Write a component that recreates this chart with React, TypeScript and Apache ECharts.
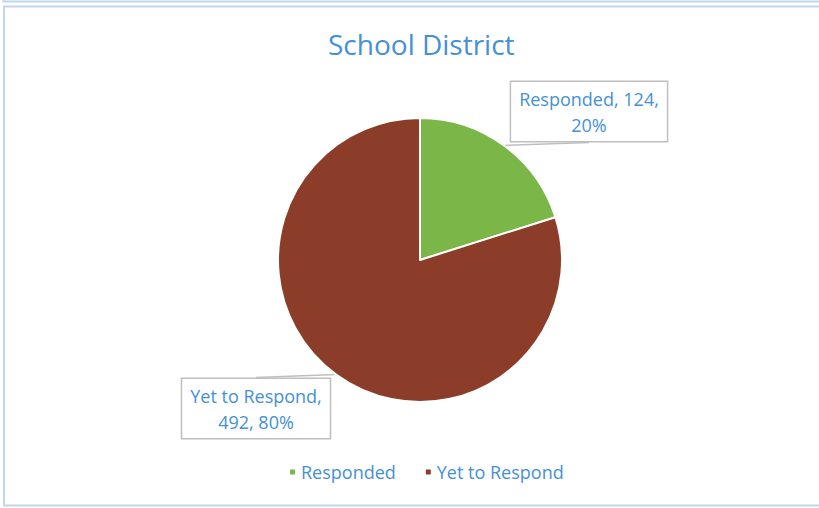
import React, { useEffect, useRef } from "react";
import * as echarts from "echarts";

const categories = ["Responded", "Yet to Respond"];
const values = [124, 492];
const colors = ["#7AB648", "#8B3D2A"];
const titleText = "School District";

const textBlue = "#4590D6";
const FONT = "'Open Sans', Lato, sans-serif";

export default function App() {
  const ref = useRef<HTMLDivElement>(null);
  useEffect(() => {
    if (!ref.current) return;
    const chart = echarts.init(ref.current, undefined, { renderer: "svg" });
    const labelCenters = [
      [589, 111.5],
      [256, 408.5],
    ];
    chart.setOption({
      animation: false,
      backgroundColor: "#ffffff",
      title: {
        text: titleText,
        left: 323,
        top: 25,
        textStyle: { color: textBlue, fontSize: 28, fontWeight: "normal", fontFamily: FONT },
      },
      legend: {
        data: categories,
        left: 283,
        top: 458,
        icon: "rect",
        itemWidth: 7,
        itemHeight: 7,
        itemGap: 28,
        textStyle: { color: textBlue, fontSize: 18, fontFamily: FONT },
      },
      graphic: [
        {
          type: "polyline",
          shape: { points: [[3.5, 0], [3.5, 1.5], [819, 1.5]] },
          style: { stroke: "#BDD7EE", lineWidth: 2, fill: "none" },
          silent: true,
        },
        {
          type: "polyline",
          shape: { points: [[819, 6.5], [4, 6.5], [4, 505.5], [819, 505.5]] },
          style: { stroke: "#BDD7EE", lineWidth: 2, fill: "none" },
          silent: true,
        },
      ],
      series: [
        {
          type: "pie",
          center: [420, 260],
          radius: 142,
          startAngle: 90,
          clockwise: true,
          data: categories.map((c, i) => ({
            name: c,
            value: values[i],
            itemStyle: { color: colors[i] },
          })),
          itemStyle: { borderColor: "#ffffff", borderWidth: 2 },
          label: {
            show: true,
            position: "outside",
            formatter: (p: any) =>
              p.dataIndex === 0
                ? `${p.name}, ${p.value},\n${Math.round(p.percent)}%`
                : `${p.name},\n${p.value}, ${Math.round(p.percent)}%`,
            color: textBlue,
            fontSize: 18,
            lineHeight: 26,
            fontFamily: FONT,
            align: "center",
            backgroundColor: "#ffffff",
            borderColor: "#BFBFBF",
            borderWidth: 1.5,
            padding: [4, 8, 3, 8],
          },
          labelLine: {
            show: true,
            length: 20,
            length2: 20,
            lineStyle: { color: "#BFBFBF", width: 1.5 },
          },
          labelLayout: (params: any) => {
            const i = params.dataIndex;
            const [cx, cy] = labelCenters[i];
            const r = params.labelRect;
            const p0 = params.labelLinePoints ? params.labelLinePoints[0] : [cx, cy];
            const end = i === 0 ? [cx, cy + r.height / 2] : [cx, cy - r.height / 2];
            return {
              x: cx,
              y: cy,
              align: "center",
              verticalAlign: "middle",
              labelLinePoints: [p0, end, end],
            };
          },
        },
      ],
    });
    return () => chart.dispose();
  }, []);
  return (
    <div
      ref={ref}
      style={{ position: "absolute", left: 0, top: 0, width: 819, height: 508 }}
    />
  );
}
